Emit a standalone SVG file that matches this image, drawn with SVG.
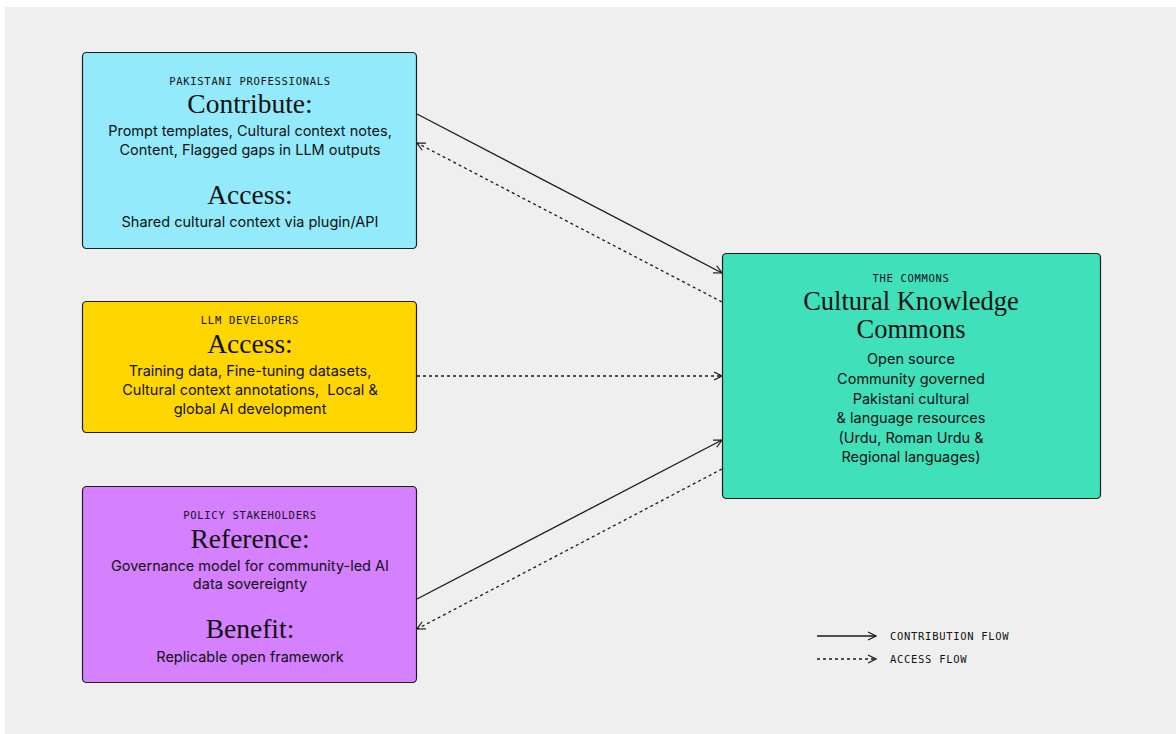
<svg xmlns="http://www.w3.org/2000/svg" width="1176" height="734" viewBox="0 0 1176 734">
  <defs>
    <style>
      .node { stroke: #1e1e1e; stroke-width: 1.2; }
      .tag { font-family: "DejaVu Sans Mono", "Liberation Mono", monospace; font-size: 10.5px; letter-spacing: 0.7px; fill: #111; text-anchor: middle; }
      .head { font-family: "Liberation Serif", "DejaVu Serif", serif; font-size: 27.5px; fill: #111; text-anchor: middle; }
      .body { font-family: Inter, "Liberation Sans", sans-serif; font-size: 14.5px; fill: #111; text-anchor: middle; }
      .legend { font-family: "DejaVu Sans Mono", "Liberation Mono", monospace; font-size: 10.5px; letter-spacing: 0.7px; fill: #111; }
      .solid { stroke: #1a1a1a; stroke-width: 1.3; fill: none; }
      .dotted { stroke: #1a1a1a; stroke-width: 1.3; fill: none; stroke-dasharray: 3 3; }
    </style>
    <marker id="arrow" viewBox="0 0 10 10" refX="9" refY="5" markerWidth="10" markerHeight="10" markerUnits="userSpaceOnUse" orient="auto">
      <path d="M1,1 L9,5 L1,9" fill="none" stroke="#1a1a1a" stroke-width="1.2"/>
    </marker>
  </defs>

  <!-- canvas -->
  <rect x="0" y="0" width="1176" height="734" fill="#ffffff"/>
  <rect x="5" y="7" width="1171" height="727" fill="#efefef"/>

  <!-- connectors -->
  <g id="connectors">
    <line class="solid" x1="417" y1="114" x2="722" y2="273" marker-end="url(#arrow)"/>
    <line class="dotted" x1="722" y1="302" x2="417" y2="143" marker-end="url(#arrow)"/>
    <line class="dotted" x1="417" y1="376" x2="722" y2="376" marker-end="url(#arrow)"/>
    <line class="solid" x1="417" y1="599" x2="722" y2="440" marker-end="url(#arrow)"/>
    <line class="dotted" x1="722" y1="469" x2="417" y2="629" marker-end="url(#arrow)"/>
  </g>

  <!-- Pakistani professionals -->
  <g id="professionals">
    <rect class="node" x="82.5" y="52.5" width="334" height="196" rx="4" fill="#93eafb"/>
    <text class="tag" x="250" y="85">PAKISTANI PROFESSIONALS</text>
    <text class="head" x="250" y="113">Contribute:</text>
    <text class="body" x="250" y="136">Prompt templates, Cultural context notes,</text>
    <text class="body" x="250" y="155">Content, Flagged gaps in LLM outputs</text>
    <text class="head" x="250" y="204">Access:</text>
    <text class="body" x="250" y="227">Shared cultural context via plugin/API</text>
  </g>

  <!-- LLM developers -->
  <g id="developers">
    <rect class="node" x="82.5" y="301.5" width="334" height="131" rx="4" fill="#ffd600"/>
    <text class="tag" x="250" y="324">LLM DEVELOPERS</text>
    <text class="head" x="250" y="353">Access:</text>
    <text class="body" x="250" y="376">Training data, Fine-tuning datasets,</text>
    <text class="body" x="250" y="395" style="white-space:pre">Cultural context annotations,  Local &amp;</text>
    <text class="body" x="250" y="414">global AI development</text>
  </g>

  <!-- Policy stakeholders -->
  <g id="policy">
    <rect class="node" x="82.5" y="486.5" width="334" height="196" rx="4" fill="#d580fe"/>
    <text class="tag" x="250" y="519">POLICY STAKEHOLDERS</text>
    <text class="head" x="250" y="548">Reference:</text>
    <text class="body" x="250" y="571">Governance model for community-led AI</text>
    <text class="body" x="250" y="589">data sovereignty</text>
    <text class="head" x="250" y="638">Benefit:</text>
    <text class="body" x="250" y="662">Replicable open framework</text>
  </g>

  <!-- The commons -->
  <g id="commons">
    <rect class="node" x="722.5" y="253.5" width="378" height="245" rx="4" fill="#40e0ba"/>
    <text class="tag" x="911" y="282">THE COMMONS</text>
    <text class="head" x="911" y="310" style="font-size:26.5px">Cultural Knowledge</text>
    <text class="head" x="911" y="338" style="font-size:26.5px">Commons</text>
    <text class="body" x="911" y="364">Open source</text>
    <text class="body" x="911" y="384">Community governed</text>
    <text class="body" x="911" y="404">Pakistani cultural</text>
    <text class="body" x="911" y="423">&amp; language resources</text>
    <text class="body" x="911" y="443">(Urdu, Roman Urdu &amp;</text>
    <text class="body" x="911" y="462">Regional languages)</text>
  </g>

  <!-- legend -->
  <g id="legend">
    <line class="solid" x1="817" y1="636" x2="876" y2="636" marker-end="url(#arrow)"/>
    <line class="dotted" x1="817" y1="659" x2="876" y2="659" marker-end="url(#arrow)"/>
    <text class="legend" x="890" y="640">CONTRIBUTION FLOW</text>
    <text class="legend" x="890" y="663">ACCESS FLOW</text>
  </g>
</svg>
